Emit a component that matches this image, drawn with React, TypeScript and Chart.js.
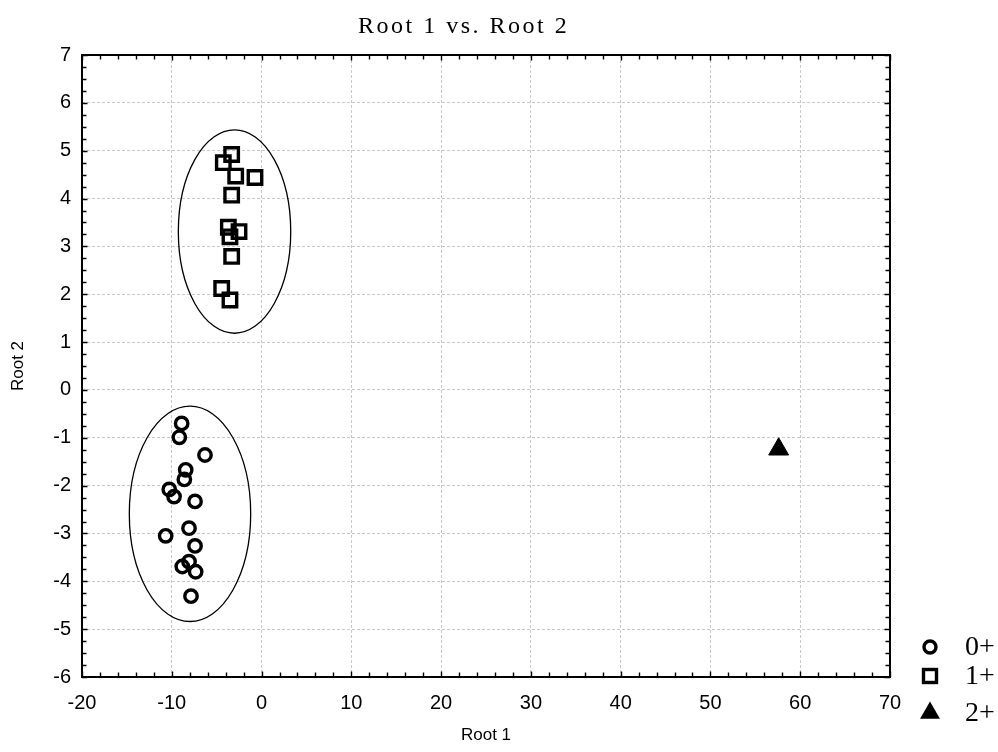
import React, { useEffect, useRef } from 'react';
import { Chart, registerables } from 'chart.js';

Chart.register(...registerables);

// ---- text ----
const TITLE = 'Root 1 vs. Root 2';
const X_TITLE = 'Root 1';
const Y_TITLE = 'Root 2';
const SERIES_NAMES = ['0+', '1+', '2+'];

// ---- axes ----
const X_MIN = -20;
const X_MAX = 70;
const X_STEP = 10;
const X_MINOR_STEP = 2;
const Y_MIN = -6;
const Y_MAX = 7;
const Y_STEP = 1;
const Y_MINOR_STEP = 0.25;

// ---- series 0+ (circles) ----
const root1_g0 = [-8.9, -9.16, -6.3, -8.45, -8.6, -10.28, -9.75, -7.41, -8.08, -10.68, -7.41, -8.08, -8.83, -7.34, -7.86];
const root2_g0 = [-0.7, -0.99, -1.36, -1.67, -1.87, -2.08, -2.23, -2.33, -2.89, -3.05, -3.26, -3.59, -3.69, -3.8, -4.31];

// ---- series 1+ (squares) ----
const root1_g1 = [-3.33, -4.26, -2.88, -0.73, -3.33, -3.7, -2.51, -3.52, -3.33, -4.44, -3.52];
const root2_g1 = [4.92, 4.75, 4.47, 4.44, 4.07, 3.4, 3.31, 3.2, 2.79, 2.12, 1.88];

// ---- series 2+ (triangle) ----
const root1_g2 = [57.6];
const root2_g2 = [-1.24];

// ---- group ellipses (data units) ----
const ELLIPSE_CX = [-7.97, -3.01];
const ELLIPSE_CY = [-2.59, 3.31];
const ELLIPSE_RX = [6.76, 6.26];
const ELLIPSE_RY = [2.25, 2.125];

const SANS = '"Liberation Sans", Arial, sans-serif';
const SERIF = '"Liberation Serif", "Times New Roman", serif';

const toPoints = (xs: number[], ys: number[]) => xs.map((v, i) => ({ x: v, y: ys[i] }));

const drawCircle = (ctx: CanvasRenderingContext2D, x: number, y: number) => {
  ctx.beginPath();
  ctx.arc(x, y, 6, 0, Math.PI * 2);
  ctx.lineWidth = 3.4;
  ctx.strokeStyle = '#000';
  ctx.stroke();
};
const drawSquare = (ctx: CanvasRenderingContext2D, x: number, y: number) => {
  ctx.lineWidth = 3.4;
  ctx.strokeStyle = '#000';
  ctx.strokeRect(x - 6.5, y - 6.5, 13, 13);
};
const drawTriangle = (ctx: CanvasRenderingContext2D, x: number, y: number, r: number) => {
  ctx.beginPath();
  ctx.moveTo(x, y - r);
  ctx.lineTo(x + r * Math.sin((2 * Math.PI) / 3), y - r * Math.cos((2 * Math.PI) / 3));
  ctx.lineTo(x + r * Math.sin((4 * Math.PI) / 3), y - r * Math.cos((4 * Math.PI) / 3));
  ctx.closePath();
  ctx.fillStyle = '#000';
  ctx.fill();
};

const decor = {
  id: 'decor',
  beforeDatasetsDraw(chart: any) {
    const { ctx } = chart;
    const xs = chart.scales.x;
    const ys = chart.scales.y;
    ctx.save();
    ctx.strokeStyle = '#000';
    ctx.lineWidth = 1.3;
    for (let i = 0; i < ELLIPSE_CX.length; i++) {
      const cx = xs.getPixelForValue(ELLIPSE_CX[i]);
      const cy = ys.getPixelForValue(ELLIPSE_CY[i]);
      const rx = Math.abs(xs.getPixelForValue(ELLIPSE_CX[i] + ELLIPSE_RX[i]) - cx);
      const ry = Math.abs(ys.getPixelForValue(ELLIPSE_CY[i] + ELLIPSE_RY[i]) - cy);
      ctx.beginPath();
      ctx.ellipse(cx, cy, rx, ry, 0, 0, Math.PI * 2);
      ctx.stroke();
    }
    ctx.restore();
  },
  afterDraw(chart: any) {
    const { ctx, chartArea } = chart;
    const { left, right, top, bottom } = chartArea;
    const xs = chart.scales.x;
    const ys = chart.scales.y;
    ctx.save();
    // frame
    ctx.strokeStyle = '#000';
    ctx.lineWidth = 2;
    ctx.strokeRect(left, top, right - left, bottom - top);
    // inward ticks
    ctx.lineWidth = 1.4;
    ctx.beginPath();
    for (let v = X_MIN; v <= X_MAX + 1e-9; v += X_MINOR_STEP) {
      const p = Math.round(xs.getPixelForValue(v)) + 0.5;
      const len = Math.abs(v % X_STEP) < 1e-9 ? 5.5 : 4.5;
      ctx.moveTo(p, bottom);
      ctx.lineTo(p, bottom - len);
      ctx.moveTo(p, top);
      ctx.lineTo(p, top + len);
    }
    for (let v = Y_MIN; v <= Y_MAX + 1e-9; v += Y_MINOR_STEP) {
      const p = Math.round(ys.getPixelForValue(v)) + 0.5;
      const len = Math.abs(v % Y_STEP) < 1e-9 ? 5.5 : 4.5;
      ctx.moveTo(left, p);
      ctx.lineTo(left + len, p);
      ctx.moveTo(right, p);
      ctx.lineTo(right - len, p);
    }
    ctx.stroke();

    // title
    ctx.fillStyle = '#000';
    ctx.font = `24px ${SERIF}`;
    (ctx as any).letterSpacing = '2.5px';
    ctx.textAlign = 'left';
    ctx.textBaseline = 'alphabetic';
    ctx.fillText(TITLE, 358, 33);
    (ctx as any).letterSpacing = '0px';

    // axis titles
    ctx.font = `17px ${SANS}`;
    ctx.textAlign = 'center';
    ctx.textBaseline = 'middle';
    ctx.fillText(X_TITLE, (left + right) / 2, 735);
    ctx.save();
    ctx.translate(18, (top + bottom) / 2);
    ctx.rotate(-Math.PI / 2);
    ctx.fillText(Y_TITLE, 0, 0);
    ctx.restore();

    // legend
    const lx = 930;
    const ly = [647, 676, 713];
    drawCircle(ctx, lx, ly[0]);
    drawSquare(ctx, lx, ly[1]);
    drawTriangle(ctx, lx, ly[2], 11.5);
    ctx.font = `28px ${SERIF}`;
    ctx.textAlign = 'left';
    ctx.textBaseline = 'middle';
    ctx.fillStyle = '#000';
    for (let i = 0; i < SERIES_NAMES.length; i++) {
      ctx.fillText(SERIES_NAMES[i], 965, ly[i] + 1);
    }
    ctx.restore();
  },
};

export default function App() {
  const ref = useRef<HTMLCanvasElement | null>(null);
  useEffect(() => {
    if (!ref.current) return;
    const chart = new Chart(ref.current, {
      type: 'scatter',
      data: {
        datasets: [
          {
            label: SERIES_NAMES[0],
            data: toPoints(root1_g0, root2_g0),
            pointStyle: 'circle',
            pointRadius: 6.2,
            pointBorderWidth: 3.4,
            borderColor: '#000',
            backgroundColor: 'rgba(0,0,0,0)',
            pointBorderColor: '#000',
            pointBackgroundColor: 'rgba(0,0,0,0)',
          },
          {
            label: SERIES_NAMES[1],
            data: toPoints(root1_g1, root2_g1),
            pointStyle: 'rect',
            pointRadius: 9.5,
            pointBorderWidth: 3.4,
            borderColor: '#000',
            backgroundColor: 'rgba(0,0,0,0)',
            pointBorderColor: '#000',
            pointBackgroundColor: 'rgba(0,0,0,0)',
          },
          {
            label: SERIES_NAMES[2],
            data: toPoints(root1_g2, root2_g2),
            pointStyle: 'triangle',
            pointRadius: 11.5,
            pointBorderWidth: 1,
            borderColor: '#000',
            backgroundColor: '#000',
            pointBorderColor: '#000',
            pointBackgroundColor: '#000',
          },
        ],
      },
      options: {
        animation: false,
        responsive: false,
        layout: { padding: { top: 55, right: 108, bottom: 0, left: 0 } },
        plugins: {
          legend: { display: false },
          title: { display: false },
          tooltip: { enabled: false },
        },
        scales: {
          x: {
            type: 'linear',
            min: X_MIN,
            max: X_MAX,
            ticks: {
              stepSize: X_STEP,
              color: '#000',
              font: { family: SANS, size: 20 },
              padding: 14,
              maxRotation: 0,
            },
            grid: { color: '#c8c8c8', lineWidth: 1, drawTicks: false },
            border: { display: false, dash: [3, 2] },
            afterFit: (s: any) => {
              s.height = 75;
            },
          },
          y: {
            type: 'linear',
            min: Y_MIN,
            max: Y_MAX,
            ticks: {
              stepSize: Y_STEP,
              color: '#000',
              font: { family: SANS, size: 20 },
              padding: 11,
            },
            grid: { color: '#c8c8c8', lineWidth: 1, drawTicks: false },
            border: { display: false, dash: [3, 2] },
            afterFit: (s: any) => {
              s.width = 82;
            },
          },
        },
      },
      plugins: [decor],
    } as any);
    return () => chart.destroy();
  }, []);
  return (
    <div style={{ position: 'fixed', left: 0, top: 0, width: 998, height: 752, background: '#fff' }}>
      <canvas ref={ref} width={998} height={752} style={{ display: 'block' }} />
    </div>
  );
}
